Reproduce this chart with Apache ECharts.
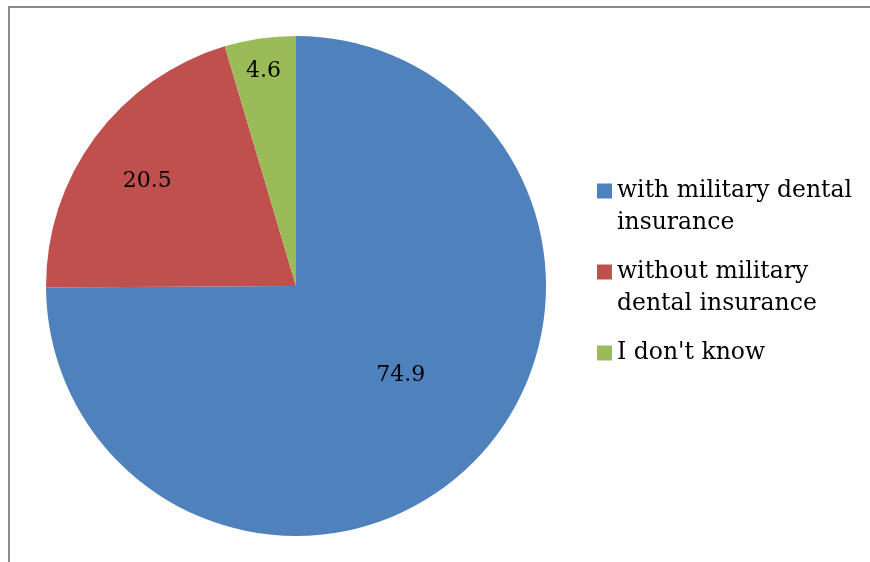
<!DOCTYPE html>
<html>
<head>
<meta charset="utf-8">
<script src="https://cdn.jsdelivr.net/npm/echarts@6/dist/echarts.min.js"></script>
<style>
  html, body { margin: 0; padding: 0; background: #fff; }
  #chart { width: 870px; height: 562px; }
</style>
</head>
<body>
<div id="chart"></div>
<script>
// Survey answers: share of respondents (%)
const categories = ['with military dental\ninsurance', 'without military\ndental insurance', "I don't know"];
const values = [74.9, 20.5, 4.6];
const colors = ['#4F81BD', '#C0504D', '#9BBB59'];
// nudge of each value label away from its default in-slice spot (px)
const labelNudge = [[14, -1], [-46, -29], [-14, -88]];

const FONT = '"DejaVu Serif", "Liberation Serif", serif';
const CENTER = [296, 286];

const chart = echarts.init(document.getElementById('chart'), null, { renderer: 'canvas' });

chart.setOption({
  backgroundColor: '#ffffff',
  animation: false,
  graphic: [{
    type: 'rect',
    shape: { x: 9, y: 7, width: 900, height: 600 },
    style: { fill: 'none', stroke: '#898989', lineWidth: 2 },
    silent: true
  }],
  legend: {
    orient: 'vertical',
    left: 597,
    top: 143,
    padding: 0,
    itemWidth: 15,
    itemHeight: 15,
    itemGap: -15,
    icon: 'rect',
    // blank padding lines keep each swatch level with the first text line
    formatter: name => name.indexOf('\n') >= 0 ? '\n' + name : '\n' + name + '\n',
    textStyle: { fontFamily: FONT, fontSize: 23.5, color: '#000', lineHeight: 32 },
    data: categories
  },
  series: [{
    type: 'pie',
    center: CENTER,
    radius: 250,
    startAngle: 90,
    clockwise: true,
    avoidLabelOverlap: false,
    itemStyle: { borderWidth: 0 },
    label: {
      show: true,
      position: 'inside',
      formatter: p => p.value.toFixed(1),
      fontFamily: FONT,
      fontSize: 22,
      color: '#000'
    },
    labelLine: { show: false },
    labelLayout: params => ({
      dx: labelNudge[params.dataIndex][0],
      dy: labelNudge[params.dataIndex][1]
    }),
    emphasis: { disabled: true },
    data: categories.map((name, i) => ({
      name,
      value: values[i],
      itemStyle: { color: colors[i] }
    }))
  }]
});
</script>
</body>
</html>
